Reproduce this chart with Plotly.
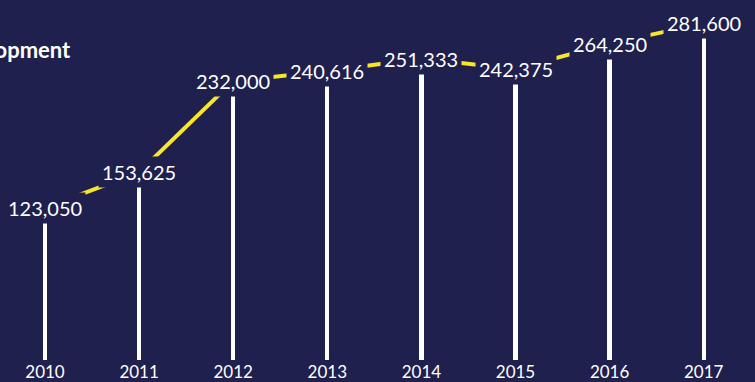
import plotly.graph_objects as go

years = ["2010", "2011", "2012", "2013", "2014", "2015", "2016", "2017"]
values = [123050, 153625, 232000, 240616, 251333, 242375, 264250, 281600]
title_text = "Development"

BG = "#1f204d"
YELLOW = "#f7e62a"
FONT = "Lato, 'Open Sans', sans-serif"

px_per_unit = 0.00117
units_per_px = 1 / px_per_unit
plot_h = 362
ymin = 5 * units_per_px
ymax = ymin + plot_h * units_per_px
shift_px = 14
shift = shift_px * units_per_px

fig = go.Figure()
fig.add_trace(go.Bar(
    x=years, y=values, width=0.045,
    marker=dict(color="white", line=dict(width=0)),
    hoverinfo="skip", showlegend=False,
))
fig.add_trace(go.Scatter(
    x=years, y=values, yaxis="y2", mode="lines",
    line=dict(color=YELLOW, width=4),
    hoverinfo="skip", showlegend=False,
))

annotations = []
for i, v in enumerate(values):
    annotations.append(dict(
        x=i, y=v, xref="x", yref="y", yshift=shift_px, text=f"{v:,}",
        showarrow=False, xanchor="center", yanchor="middle",
        font=dict(family=FONT, size=20, color="white"),
        bgcolor=BG, borderpad=3,
    ))
annotations.append(dict(
    x=73 / 755, y=1 - 52 / 382, xref="paper", yref="paper",
    xanchor="right", yanchor="middle", text=f"<b>{title_text}</b>",
    showarrow=False, font=dict(family=FONT, size=22, color="white"),
))

x0 = -45 / 94.1
x1 = (755 - 45) / 94.1

fig.update_layout(
    width=755, height=382,
    margin=dict(l=0, r=0, t=0, b=382 - plot_h),
    paper_bgcolor=BG, plot_bgcolor=BG,
    xaxis=dict(type="category", range=[x0, x1], showgrid=False, zeroline=False,
               showline=False, ticks="", tickfont=dict(family=FONT, size=17, color="white")),
    yaxis=dict(range=[ymin, ymax], visible=False, showgrid=False, zeroline=False),
    yaxis2=dict(range=[ymin - shift, ymax - shift], overlaying="y", visible=False,
                showgrid=False, zeroline=False),
    annotations=annotations,
    bargap=0,
)

fig.write_html("out.html")
